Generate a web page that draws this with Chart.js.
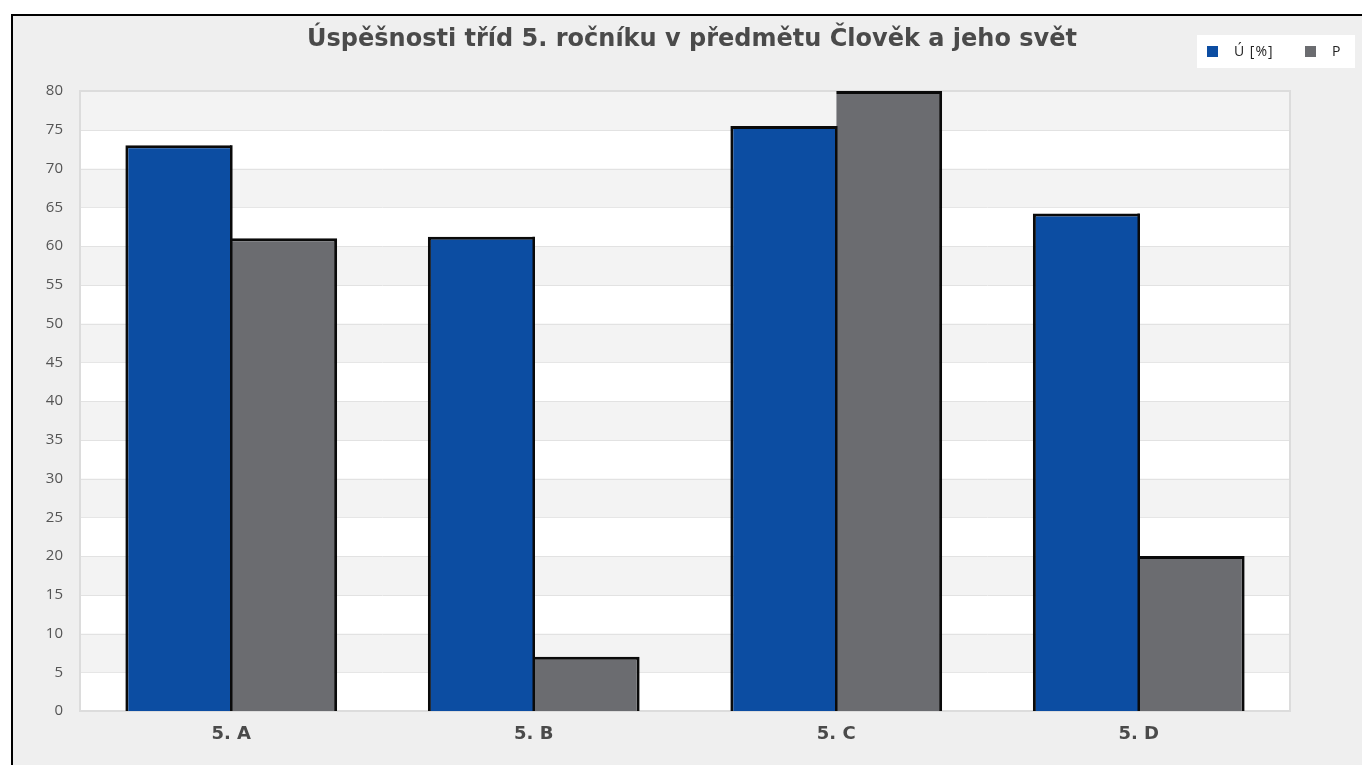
<!DOCTYPE html>
<html>
<head>
<meta charset="utf-8">
<script src="https://cdn.jsdelivr.net/npm/chart.js@4/dist/chart.umd.min.js"></script>
<style>
  html, body { margin: 0; padding: 0; background: #ffffff; overflow: hidden; }
  #frame {
    position: absolute; left: 11px; top: 14px;
    width: 1400px; height: 800px;
    border: 2px solid #000; background: #efefef;
  }
  #wrap { position: absolute; left: 0; top: 0; width: 1349px; height: 749px; }
</style>
</head>
<body>
<div id="frame">
  <div id="wrap"><canvas id="chart"></canvas></div>
</div>
<script>
// data
var classes = ["5. A", "5. B", "5. C", "5. D"];
var uspesnost = [73, 61.2, 75.5, 64.2];
var pValues = [61, 7, 80, 20];
var seriesNames = ["Ú [%]", "P"];
var yTicks = [0, 5, 10, 15, 20, 25, 30, 35, 40, 45, 50, 55, 60, 65, 70, 75, 80];
var chartTitle = "Úspěšnosti tříd 5. ročníku v předmětu Člověk a jeho svět";

var blue = "#0c4da2";
var grey = "#6b6c70";

// alternating bands behind the bars
var bandsPlugin = {
  id: "bands",
  beforeDatasetsDraw: function(chart) {
    var ctx = chart.ctx, area = chart.chartArea, y = chart.scales.y;
    ctx.save();
    for (var i = 0; i < yTicks.length - 1; i++) {
      var top = y.getPixelForValue(yTicks[i + 1]);
      var bottom = y.getPixelForValue(yTicks[i]);
      ctx.fillStyle = (i % 2 === 1) ? "#f3f3f3" : "#ffffff";
      ctx.fillRect(area.left, top, area.right - area.left, bottom - top);
      ctx.strokeStyle = "#e2e2e2";
      ctx.lineWidth = 1;
      ctx.beginPath();
      ctx.moveTo(area.left, Math.round(top) + 0.5);
      ctx.lineTo(area.right, Math.round(top) + 0.5);
      ctx.stroke();
    }
    ctx.strokeStyle = "#dcdcdc";
    ctx.lineWidth = 2;
    ctx.strokeRect(area.left, area.top, area.right - area.left, area.bottom - area.top);
    ctx.restore();
  },
  // dark divider on the right edge of each blue bar
  afterDatasetsDraw: function(chart) {
    var ctx = chart.ctx;
    var bars = chart.getDatasetMeta(0).data;
    ctx.save();
    ctx.strokeStyle = "#0a0a0a";
    ctx.lineWidth = 2.5;
    bars.forEach(function(bar) {
      var p = bar.getProps(["x", "y", "base", "width"], true);
      var xr = p.x + p.width / 2;
      ctx.beginPath();
      ctx.moveTo(xr, p.y);
      ctx.lineTo(xr, p.base);
      ctx.stroke();
    });
    ctx.restore();
  }
};

// title and legend box at the top
var headerPlugin = {
  id: "header",
  afterDraw: function(chart) {
    var ctx = chart.ctx;
    ctx.save();
    ctx.fillStyle = "#4a4a4a";
    ctx.font = "bold 24px 'DejaVu Sans', sans-serif";
    ctx.textAlign = "center";
    ctx.textBaseline = "middle";
    ctx.fillText(chartTitle, 679, 24);

    ctx.textAlign = "left";
    ctx.fillStyle = "#ffffff";
    ctx.fillRect(1184, 19, 158, 33);
    ctx.font = "14px 'Open Sans', sans-serif";
    ctx.letterSpacing = "1px";
    var xs = [1194, 1292];
    chart.data.datasets.forEach(function(ds, i) {
      ctx.fillStyle = ds.backgroundColor;
      ctx.fillRect(xs[i], 30, 11, 11);
      ctx.fillStyle = "#222";
      ctx.fillText(ds.label, xs[i] + 27, 36);
    });
    ctx.letterSpacing = "0px";
    ctx.restore();
  }
};

new Chart(document.getElementById("chart"), {
  type: "bar",
  data: {
    labels: classes,
    datasets: [
      {
        label: seriesNames[0],
        data: uspesnost,
        backgroundColor: blue,
        borderColor: "#0a0a0a",
        borderWidth: {top: 3, left: 3, right: 0, bottom: 0},
        borderSkipped: false
      },
      {
        label: seriesNames[1],
        data: pValues,
        backgroundColor: grey,
        borderColor: "#0a0a0a",
        borderWidth: {top: 3, left: 0, right: 3, bottom: 0},
        borderSkipped: false
      }
    ]
  },
  plugins: [bandsPlugin, headerPlugin],
  options: {
    responsive: true,
    maintainAspectRatio: false,
    animation: false,
    layout: { padding: { top: 75, right: 72, bottom: 0, left: 0 } },
    datasets: { bar: { categoryPercentage: 0.7, barPercentage: 1.0 } },
    plugins: {
      legend: { display: false },
      tooltip: { enabled: false },
      title: { display: false }
    },
    scales: {
      x: {
        grid: { display: false },
        border: { display: false },
        ticks: {
          color: "#4a4a4a",
          padding: 5,
          font: { family: "'DejaVu Sans', sans-serif", size: 18, weight: "bold" }
        },
        afterFit: function(scale) { scale.height = 54; }
      },
      y: {
        min: 0,
        max: 80,
        grid: { display: false },
        border: { display: false },
        afterBuildTicks: function(scale) {
          scale.ticks = yTicks.map(function(v) { return {value: v}; });
        },
        ticks: {
          color: "#555",
          padding: 9,
          font: { family: "'Open Sans', sans-serif", size: 15 }
        },
        afterFit: function(scale) { scale.width = 67; }
      }
    }
  }
});
</script>
</body>
</html>
